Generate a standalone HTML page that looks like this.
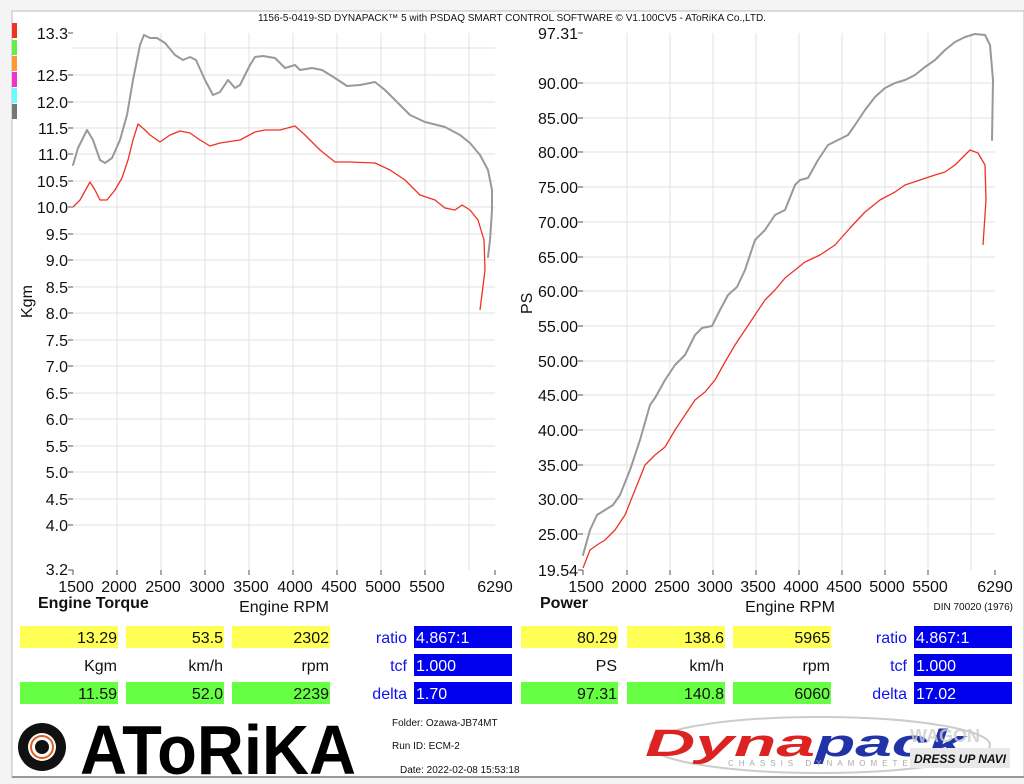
<!DOCTYPE html>
<html><head><meta charset="utf-8"><style>
html,body{margin:0;padding:0;background:#fff;}
svg{display:block;font-family:"Liberation Sans",Arial,sans-serif;}
</style></head><body>
<svg width="1024" height="784" viewBox="0 0 1024 784" xmlns="http://www.w3.org/2000/svg">
<rect x="0" y="0" width="1024" height="784" fill="#f4f4f4"/>
<rect x="12" y="11" width="1012" height="766" fill="#fff" stroke="#bbb" stroke-width="1"/>
<line x1="12" y1="777" x2="1024" y2="777" stroke="#999" stroke-width="2"/>
<text x="512" y="21" font-size="10" text-anchor="middle" fill="#111">1156-5-0419-SD DYNAPACK™ 5 with PSDAQ SMART CONTROL SOFTWARE © V1.100CV5 - AToRiKA Co.,LTD.</text>
<rect x="12" y="23" width="5" height="15" fill="#ee3322"/>
<rect x="12" y="40" width="5" height="15" fill="#66ee44"/>
<rect x="12" y="56" width="5" height="15" fill="#ff9933"/>
<rect x="12" y="72" width="5" height="15" fill="#ee33cc"/>
<rect x="12" y="88" width="5" height="15" fill="#66ffff"/>
<rect x="12" y="104" width="5" height="15" fill="#777"/>

<g stroke="#e2e2e2" stroke-width="1">
<line x1="117" y1="33" x2="117" y2="570"/><line x1="161" y1="33" x2="161" y2="570"/><line x1="205" y1="33" x2="205" y2="570"/><line x1="249" y1="33" x2="249" y2="570"/><line x1="293" y1="33" x2="293" y2="570"/><line x1="337" y1="33" x2="337" y2="570"/><line x1="381" y1="33" x2="381" y2="570"/><line x1="425" y1="33" x2="425" y2="570"/><line x1="469" y1="33" x2="469" y2="570"/>
<line x1="73" y1="48" x2="495" y2="48"/><line x1="73" y1="75" x2="495" y2="75"/><line x1="73" y1="102" x2="495" y2="102"/><line x1="73" y1="128" x2="495" y2="128"/><line x1="73" y1="154" x2="495" y2="154"/><line x1="73" y1="181" x2="495" y2="181"/><line x1="73" y1="207" x2="495" y2="207"/><line x1="73" y1="234" x2="495" y2="234"/><line x1="73" y1="260" x2="495" y2="260"/><line x1="73" y1="287" x2="495" y2="287"/><line x1="73" y1="313" x2="495" y2="313"/><line x1="73" y1="340" x2="495" y2="340"/><line x1="73" y1="366" x2="495" y2="366"/><line x1="73" y1="393" x2="495" y2="393"/><line x1="73" y1="419" x2="495" y2="419"/><line x1="73" y1="446" x2="495" y2="446"/><line x1="73" y1="472" x2="495" y2="472"/><line x1="73" y1="499" x2="495" y2="499"/><line x1="73" y1="525" x2="495" y2="525"/>
<line x1="627" y1="33" x2="627" y2="570"/><line x1="670" y1="33" x2="670" y2="570"/><line x1="713" y1="33" x2="713" y2="570"/><line x1="756" y1="33" x2="756" y2="570"/><line x1="799" y1="33" x2="799" y2="570"/><line x1="842" y1="33" x2="842" y2="570"/><line x1="885" y1="33" x2="885" y2="570"/><line x1="928" y1="33" x2="928" y2="570"/><line x1="971" y1="33" x2="971" y2="570"/>
<line x1="583" y1="83" x2="995" y2="83"/><line x1="583" y1="118" x2="995" y2="118"/><line x1="583" y1="152" x2="995" y2="152"/><line x1="583" y1="187" x2="995" y2="187"/><line x1="583" y1="222" x2="995" y2="222"/><line x1="583" y1="257" x2="995" y2="257"/><line x1="583" y1="291" x2="995" y2="291"/><line x1="583" y1="326" x2="995" y2="326"/><line x1="583" y1="361" x2="995" y2="361"/><line x1="583" y1="395" x2="995" y2="395"/><line x1="583" y1="430" x2="995" y2="430"/><line x1="583" y1="465" x2="995" y2="465"/><line x1="583" y1="499" x2="995" y2="499"/><line x1="583" y1="534" x2="995" y2="534"/>
</g>
<!-- tick marks -->
<g stroke="#555" stroke-width="1">
<line x1="68" y1="33" x2="73" y2="33"/><line x1="68" y1="75" x2="73" y2="75"/><line x1="68" y1="102" x2="73" y2="102"/><line x1="68" y1="128" x2="73" y2="128"/><line x1="68" y1="154" x2="73" y2="154"/><line x1="68" y1="181" x2="73" y2="181"/><line x1="68" y1="207" x2="73" y2="207"/><line x1="68" y1="234" x2="73" y2="234"/><line x1="68" y1="260" x2="73" y2="260"/><line x1="68" y1="287" x2="73" y2="287"/><line x1="68" y1="313" x2="73" y2="313"/><line x1="68" y1="340" x2="73" y2="340"/><line x1="68" y1="366" x2="73" y2="366"/><line x1="68" y1="393" x2="73" y2="393"/><line x1="68" y1="419" x2="73" y2="419"/><line x1="68" y1="446" x2="73" y2="446"/><line x1="68" y1="472" x2="73" y2="472"/><line x1="68" y1="499" x2="73" y2="499"/><line x1="68" y1="525" x2="73" y2="525"/><line x1="68" y1="570" x2="73" y2="570"/>
<line x1="578" y1="33" x2="583" y2="33"/><line x1="578" y1="83" x2="583" y2="83"/><line x1="578" y1="118" x2="583" y2="118"/><line x1="578" y1="152" x2="583" y2="152"/><line x1="578" y1="187" x2="583" y2="187"/><line x1="578" y1="222" x2="583" y2="222"/><line x1="578" y1="257" x2="583" y2="257"/><line x1="578" y1="291" x2="583" y2="291"/><line x1="578" y1="326" x2="583" y2="326"/><line x1="578" y1="361" x2="583" y2="361"/><line x1="578" y1="395" x2="583" y2="395"/><line x1="578" y1="430" x2="583" y2="430"/><line x1="578" y1="465" x2="583" y2="465"/><line x1="578" y1="499" x2="583" y2="499"/><line x1="578" y1="534" x2="583" y2="534"/><line x1="578" y1="570" x2="583" y2="570"/>
<line x1="73" y1="570" x2="73" y2="575"/><line x1="117" y1="570" x2="117" y2="575"/><line x1="161" y1="570" x2="161" y2="575"/><line x1="205" y1="570" x2="205" y2="575"/><line x1="249" y1="570" x2="249" y2="575"/><line x1="293" y1="570" x2="293" y2="575"/><line x1="337" y1="570" x2="337" y2="575"/><line x1="381" y1="570" x2="381" y2="575"/><line x1="425" y1="570" x2="425" y2="575"/><line x1="495" y1="570" x2="495" y2="575"/>
<line x1="583" y1="570" x2="583" y2="575"/><line x1="627" y1="570" x2="627" y2="575"/><line x1="670" y1="570" x2="670" y2="575"/><line x1="713" y1="570" x2="713" y2="575"/><line x1="756" y1="570" x2="756" y2="575"/><line x1="799" y1="570" x2="799" y2="575"/><line x1="842" y1="570" x2="842" y2="575"/><line x1="885" y1="570" x2="885" y2="575"/><line x1="928" y1="570" x2="928" y2="575"/><line x1="995" y1="570" x2="995" y2="575"/>
</g>

<g font-size="16" fill="#111" text-anchor="end">
<text x="68" y="39">13.3</text><text x="68" y="81">12.5</text><text x="68" y="108">12.0</text><text x="68" y="134">11.5</text><text x="68" y="160">11.0</text><text x="68" y="187">10.5</text><text x="68" y="213">10.0</text><text x="68" y="240">9.5</text><text x="68" y="266">9.0</text><text x="68" y="293">8.5</text><text x="68" y="319">8.0</text><text x="68" y="346">7.5</text><text x="68" y="372">7.0</text><text x="68" y="399">6.5</text><text x="68" y="425">6.0</text><text x="68" y="452">5.5</text><text x="68" y="478">5.0</text><text x="68" y="505">4.5</text><text x="68" y="531">4.0</text><text x="68" y="575">3.2</text>
<text x="578" y="39">97.31</text><text x="578" y="89">90.00</text><text x="578" y="124">85.00</text><text x="578" y="158">80.00</text><text x="578" y="193">75.00</text><text x="578" y="228">70.00</text><text x="578" y="263">65.00</text><text x="578" y="297">60.00</text><text x="578" y="332">55.00</text><text x="578" y="367">50.00</text><text x="578" y="401">45.00</text><text x="578" y="436">40.00</text><text x="578" y="471">35.00</text><text x="578" y="505">30.00</text><text x="578" y="540">25.00</text><text x="578" y="576">19.54</text>
</g>
<g font-size="16" fill="#111" text-anchor="middle">
<text x="76" y="592">1500</text><text x="119" y="592">2000</text><text x="163" y="592">2500</text><text x="207" y="592">3000</text><text x="251" y="592">3500</text><text x="295" y="592">4000</text><text x="339" y="592">4500</text><text x="383" y="592">5000</text><text x="427" y="592">5500</text><text x="495" y="592">6290</text>
<text x="586" y="592">1500</text><text x="629" y="592">2000</text><text x="672" y="592">2500</text><text x="715" y="592">3000</text><text x="758" y="592">3500</text><text x="801" y="592">4000</text><text x="844" y="592">4500</text><text x="887" y="592">5000</text><text x="930" y="592">5500</text><text x="995" y="592">6290</text>
<text x="284" y="612">Engine RPM</text><text x="790" y="612">Engine RPM</text>
</g>
<text x="38" y="608" font-size="16" font-weight="bold" fill="#111">Engine Torque</text>
<text x="540" y="608" font-size="16" font-weight="bold" fill="#111">Power</text>
<text x="1013" y="610" font-size="10" fill="#111" text-anchor="end">DIN 70020 (1976)</text>
<text transform="translate(32,318) rotate(-90)" font-size="16" fill="#111">Kgm</text>
<text transform="translate(532,314) rotate(-90)" font-size="16" fill="#111">PS</text>

<g fill="none" stroke-width="2" stroke-linejoin="round" stroke-linecap="round">
<polyline stroke="#999" points="73,165 78,148 87,130 93,140 100,160 105,163 112,158 120,140 127,115 133,80 140,45 144,35 150,38 157,38 165,43 175,55 183,60 190,57 196,60 205,80 213,95 220,92 228,80 235,88 240,85 250,65 255,57 263,56 275,58 285,68 295,65 300,70 312,68 322,70 335,78 347,86 360,85 375,82 385,90 400,105 410,115 425,122 445,127 460,135 470,143 480,155 488,170 492,190 492,210 490,240 488,257"/>
<polyline stroke="#999" points="583,555 590,530 597,515 605,510 613,505 620,495 630,470 640,440 650,405 655,398 665,380 675,365 685,355 695,335 702,328 712,326 720,310 728,295 737,287 745,270 755,240 765,230 775,215 785,210 795,185 800,180 808,178 818,160 828,145 838,140 848,135 855,125 865,110 875,97 885,88 895,83 905,80 915,75 925,67 935,60 945,50 955,42 965,37 975,34 985,35 990,45 993,80 992,140"/>
</g>
<g fill="none" stroke-width="1.3" stroke-linejoin="round">
<polyline stroke="#ee3322" points="73,207 80,200 90,182 95,190 100,200 107,200 115,190 122,178 128,160 133,140 138,124 145,130 150,135 160,142 170,135 180,131 190,133 200,140 210,146 220,143 240,140 255,132 265,130 280,130 295,126 305,135 320,150 335,162 350,162 375,163 390,170 405,180 420,195 435,200 445,208 455,210 462,205 470,210 478,220 484,240 485,270 480,310"/>
<polyline stroke="#ee3322" points="583,568 590,550 597,545 605,540 615,530 625,515 635,490 645,465 655,455 665,447 675,430 685,415 695,400 705,392 715,380 725,362 735,345 745,330 755,315 765,300 775,290 785,278 795,270 805,262 820,255 835,245 850,228 865,212 880,200 895,192 905,185 920,180 935,175 945,172 955,165 965,155 970,150 978,153 985,165 986,200 983,245"/>
</g>

<g>
<rect x="20" y="626" width="98" height="22" fill="#ffff55"/><rect x="126" y="626" width="98" height="22" fill="#ffff55"/><rect x="232" y="626" width="98" height="22" fill="#ffff55"/>
<rect x="20" y="682" width="98" height="22" fill="#66ff44"/><rect x="126" y="682" width="98" height="22" fill="#66ff44"/><rect x="232" y="682" width="98" height="22" fill="#66ff44"/>
<rect x="414" y="626" width="98" height="22" fill="#0000ee"/><rect x="414" y="654" width="98" height="22" fill="#0000ee"/><rect x="414" y="682" width="98" height="22" fill="#0000ee"/>
<rect x="521" y="626" width="97" height="22" fill="#ffff55"/><rect x="627" y="626" width="98" height="22" fill="#ffff55"/><rect x="733" y="626" width="98" height="22" fill="#ffff55"/>
<rect x="521" y="682" width="97" height="22" fill="#66ff44"/><rect x="627" y="682" width="98" height="22" fill="#66ff44"/><rect x="733" y="682" width="98" height="22" fill="#66ff44"/>
<rect x="914" y="626" width="98" height="22" fill="#0000ee"/><rect x="914" y="654" width="98" height="22" fill="#0000ee"/><rect x="914" y="682" width="98" height="22" fill="#0000ee"/>
</g>
<g font-size="16" fill="#111" text-anchor="end">
<text x="117" y="643">13.29</text><text x="223" y="643">53.5</text><text x="329" y="643">2302</text>
<text x="117" y="671">Kgm</text><text x="223" y="671">km/h</text><text x="329" y="671">rpm</text>
<text x="117" y="699">11.59</text><text x="223" y="699">52.0</text><text x="329" y="699">2239</text>
<text x="617" y="643">80.29</text><text x="724" y="643">138.6</text><text x="830" y="643">5965</text>
<text x="617" y="671">PS</text><text x="724" y="671">km/h</text><text x="830" y="671">rpm</text>
<text x="617" y="699">97.31</text><text x="724" y="699">140.8</text><text x="830" y="699">6060</text>
</g>
<g font-size="16" fill="#1111ee" text-anchor="end">
<text x="407" y="643">ratio</text><text x="407" y="671">tcf</text><text x="407" y="699">delta</text>
<text x="907" y="643">ratio</text><text x="907" y="671">tcf</text><text x="907" y="699">delta</text>
</g>
<g font-size="16" fill="#fff">
<text x="416" y="643">4.867:1</text><text x="416" y="671">1.000</text><text x="416" y="699">1.70</text>
<text x="916" y="643">4.867:1</text><text x="916" y="671">1.000</text><text x="916" y="699">17.02</text>
</g>

<circle cx="42" cy="747" r="24" fill="#111"/>
<circle cx="42" cy="747" r="14" fill="#fff"/>
<circle cx="42" cy="747" r="11" fill="none" stroke="#e06020" stroke-width="2"/>
<circle cx="42" cy="747" r="7" fill="#111"/>
<text x="218" y="774" font-size="70" font-weight="bold" fill="#000" text-anchor="middle" textLength="276" lengthAdjust="spacingAndGlyphs">AToRiKA</text>

<g font-size="10" fill="#111">
<text x="392" y="726">Folder:  Ozawa-JB74MT</text>
<text x="392" y="749">Run ID:  ECM-2</text>
<text x="400" y="773">Date:  2022-02-08 15:53:18</text>
</g>

<ellipse cx="820" cy="745" rx="170" ry="28" fill="none" stroke="#ccc" stroke-width="2"/>
<text x="645" y="756" font-size="38" font-weight="bold" font-style="italic" fill="#dd2222" textLength="170" lengthAdjust="spacingAndGlyphs">Dyna</text>
<text x="815" y="756" font-size="38" font-weight="bold" font-style="italic" fill="#2233aa" textLength="150" lengthAdjust="spacingAndGlyphs">pack</text>
<text x="728" y="766" font-size="8" fill="#aaa" letter-spacing="5">CHASSIS DYNAMOMETER</text>
<text x="910" y="742" font-size="18" font-weight="bold" fill="#ccc" opacity="0.8">WAGON</text>
<rect x="910" y="748" width="100" height="20" fill="#e8e8e8"/>
<text x="960" y="763" font-size="12" font-weight="bold" font-style="italic" fill="#111" text-anchor="middle">DRESS UP NAVI</text>
</svg>
</body></html>
